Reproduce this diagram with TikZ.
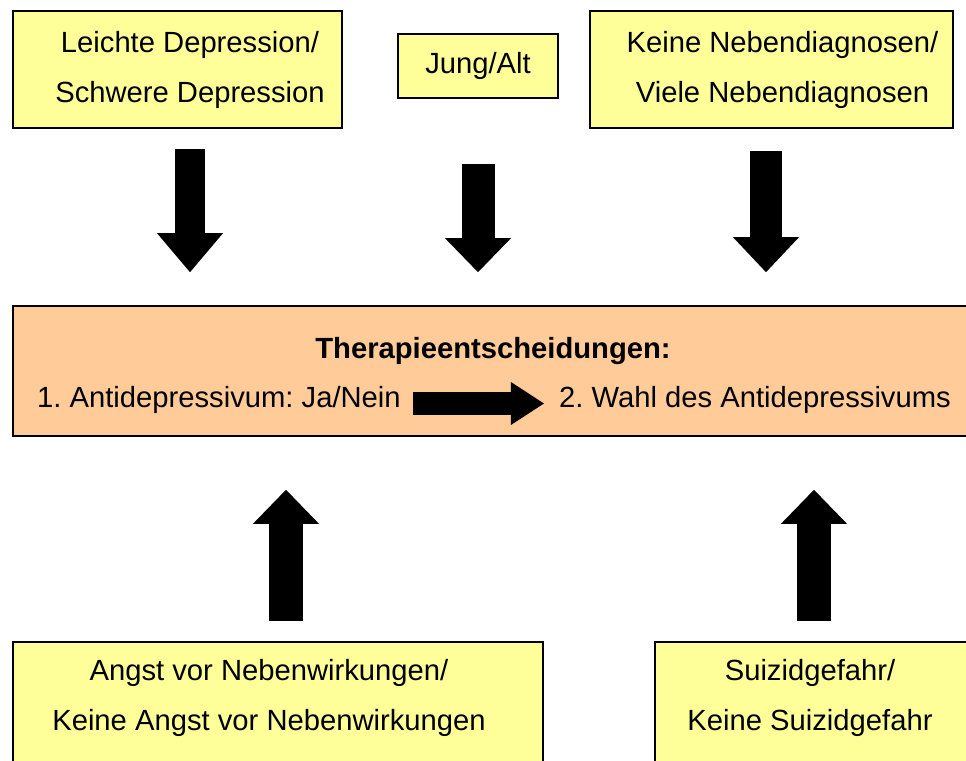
\documentclass[tikz,border=0pt]{standalone}
\usepackage{fontspec}
\setmainfont{Liberation Sans}
\frenchspacing
\usepackage{tikz}
\usetikzlibrary{arrows.meta,calc,positioning}
\definecolor{boxyellow}{RGB}{255,255,153}
\definecolor{boxorange}{RGB}{255,204,153}

\begin{document}
\begin{tikzpicture}[x=1pt,y=1pt,line join=miter,
 font=\fontsize{29.2pt}{50pt}\selectfont,
 yellowbox/.style={draw=black,line width=1.6pt,fill=boxyellow,align=center,inner sep=0pt},
 orangebox/.style={draw=black,line width=1.6pt,fill=boxorange,inner sep=0pt},
 textnode/.style={inner sep=0pt},
 bigarrow/.style n args={3}{line width=#1,-{Triangle[length=#2,width=#3,line width=0pt]}}]
 \useasboundingbox (0,0) rectangle (966,760);
 % Gorne pola.
 \node[yellowbox,minimum width=329pt,minimum height=117pt] (depr) at (177.5,690.5)
  {\hspace*{25pt}Leichte Depression/\\\hspace*{25pt}Schwere Depression};
 \node[yellowbox,minimum width=160pt,minimum height=64pt] (jung) at (478,694) {Jung/Alt};
 \node[yellowbox,minimum width=363pt,minimum height=117pt] (neben) at (771.5,690.5)
  {\hspace*{22pt}Keine Nebendiagnosen/\\\hspace*{22pt}Viele Nebendiagnosen};
 % Srodkowe pole.
 \node[orangebox,minimum width=962pt,minimum height=130pt] (therapie) at (494,389) {};
 \node[textnode] (titel) at (493,408.6) {\bfseries Therapieentscheidungen:};
 \node[textnode,anchor=west] (step1) at (37,360) {1. Antidepressivum: Ja/Nein};
 \node[textnode,anchor=east] (step2) at (951,360) {2. Wahl des Antidepressivums};
 \draw[bigarrow={23pt}{33pt}{43pt}] ([xshift=12pt,yshift=-3.5pt]step1.east)
  -- ([xshift=-15pt,yshift=-3.5pt]step2.west);
 % Dolne pola.
 \node[yellowbox,minimum width=530pt,minimum height=156pt] (angst) at (278,40)
  {Angst vor Nebenwirkungen/\kern18pt\\Keine Angst vor Nebenwirkungen\kern18pt\\\mbox{}};
 \node[yellowbox,minimum width=320pt,minimum height=156pt] (suizid) at (815,40)
  {Suizidgefahr/\kern10pt\\Keine Suizidgefahr\kern10pt\\\mbox{}};
 % Strzalki w dol.
 \draw[bigarrow={30pt}{39pt}{66pt},shorten >=33pt]
  ([xshift=12.5pt,yshift=-20pt]depr.south) -- ([xshift=12.5pt]depr.south |- therapie.north);
 \draw[bigarrow={33pt}{34pt}{66pt},shorten >=33pt]
  ([yshift=-65pt]jung.south) -- (jung.south |- therapie.north);
 \draw[bigarrow={32pt}{35pt}{66pt},shorten >=33pt]
  ([xshift=-5.5pt,yshift=-22pt]neben.south) -- ([xshift=-5.5pt]neben.south |- therapie.north);
 % Strzalki w gore.
 \draw[bigarrow={34pt}{34pt}{66pt},shorten >=53pt]
  ([xshift=8pt,yshift=20pt]angst.north) -- ([xshift=8pt]angst.north |- therapie.south);
 \draw[bigarrow={34pt}{34pt}{66pt},shorten >=53pt]
  ([xshift=-1pt,yshift=20pt]suizid.north) -- ([xshift=-1pt]suizid.north |- therapie.south);
\end{tikzpicture}
\end{document}
